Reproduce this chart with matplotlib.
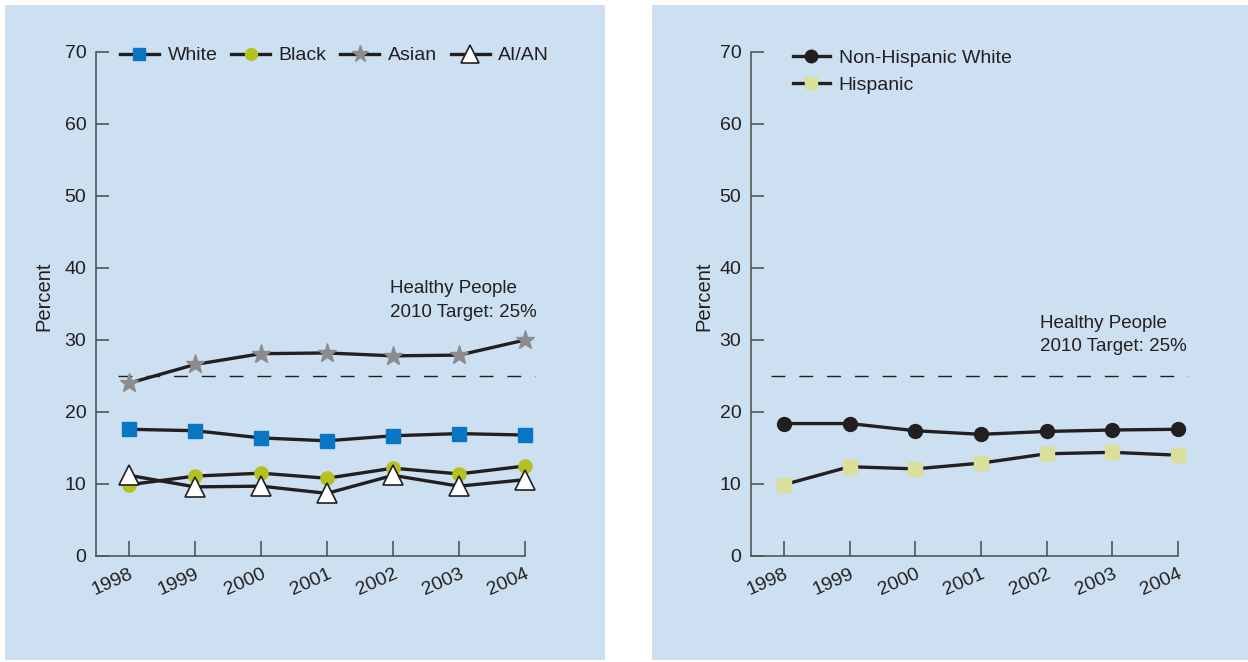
import matplotlib
matplotlib.use('Agg')
import matplotlib.pyplot as plt
from matplotlib.patches import Rectangle

plt.rcParams['font.family'] = ['Liberation Sans', 'DejaVu Sans']

years = [1998, 1999, 2000, 2001, 2002, 2003, 2004]
white = [17.6, 17.4, 16.4, 16.0, 16.7, 17.0, 16.8]
black = [9.9, 11.1, 11.5, 10.8, 12.2, 11.4, 12.5]
asian = [24.0, 26.6, 28.1, 28.2, 27.8, 27.9, 30.0]
aian = [11.2, 9.6, 9.7, 8.7, 11.2, 9.7, 10.6]
nh_white = [18.4, 18.4, 17.4, 16.9, 17.3, 17.5, 17.6]
hispanic = [9.9, 12.4, 12.1, 12.9, 14.2, 14.4, 14.0]
target = 25
target_text = 'Healthy People\n2010 Target: 25%'

BG = '#cde0f1'
TXT = '#231f20'
AXC = '#555555'
FS = 14

fig = plt.figure(figsize=(12.48, 6.62), dpi=100)
fig.patch.set_facecolor('white')
W, H = 1248, 662
# panel backgrounds, kept behind the axes
fig.patches.append(Rectangle((5 / W, 2 / H), 600 / W, 655 / H, transform=fig.transFigure,
                             facecolor=BG, edgecolor='none', zorder=-10))
fig.patches.append(Rectangle((652 / W, 2 / H), 596 / W, 655 / H, transform=fig.transFigure,
                             facecolor=BG, edgecolor='none', zorder=-10))


def setup_axes(ax, label_x):
    ax.set_facecolor('none')
    ax.set_xlim(1997.5, 2004)
    ax.set_ylim(0, 70)
    ax.set_yticks(range(0, 71, 10))
    ax.set_xticks(years)
    ax.set_xticklabels([str(y) for y in years], rotation=24, ha='right', va='top',
                       rotation_mode='anchor', fontsize=FS, color=TXT)
    for lab in ax.get_yticklabels():
        lab.set_fontsize(FS)
        lab.set_color(TXT)
    ax.spines['top'].set_visible(False)
    ax.spines['right'].set_visible(False)
    for s in ('left', 'bottom'):
        ax.spines[s].set_color(AXC)
        ax.spines[s].set_linewidth(1.2)
    ax.tick_params(axis='y', direction='in', length=9, width=1.2, color=AXC, pad=7)
    ax.tick_params(axis='x', direction='in', length=11, width=1.2, color=AXC, pad=7)
    ax.set_ylabel('Percent', fontsize=14.5, color=TXT)
    ax.yaxis.set_label_coords(label_x, 0.516)


line_kw = dict(color='#231f20', lw=2.4, clip_on=False)
dash_kw = dict(color='#231f20', lw=1, dashes=(10, 10), clip_on=False)
note_kw = dict(fontsize=13.5, color=TXT, va='top', ha='left', linespacing=1.5)

# left panel
ax1 = fig.add_axes([96 / W, 106 / H, 429 / W, 504 / H])
setup_axes(ax1, -0.100)
ax1.axhline(target, xmin=0.051, xmax=1.023, **dash_kw)
ax1.plot(years, white, marker='s', ms=10, mfc='#0a75c2', mec='#0a75c2', label='White', **line_kw)
ax1.plot(years, black, marker='o', ms=9.5, mfc='#b5c11d', mec='#b5c11d', label='Black', **line_kw)
ax1.plot(years, asian, marker='*', ms=14, mfc='#8c8c8e', mec='#8c8c8e', label='Asian', **line_kw)
ax1.plot(years, aian, marker='^', ms=14, mfc='white', mec='#231f20', mew=1.2, label='AI/AN', **line_kw)
ax1.text(2001.95, 38.3, target_text, **note_kw)
ax1.legend(loc='center left', bbox_to_anchor=(0.056, 0.993), ncol=4, frameon=False, fontsize=FS,
           handlelength=2.0, columnspacing=0.7, handletextpad=0.45, numpoints=1, labelcolor=TXT,
           borderaxespad=0.0, borderpad=0.0, markerscale=0.9)

# right panel
ax2 = fig.add_axes([751 / W, 106 / H, 427 / W, 504 / H])
setup_axes(ax2, -0.089)
ax2.axhline(target, xmin=0.047, xmax=1.023, **dash_kw)
ax2.plot(years, nh_white, marker='o', ms=10, mfc='#231f20', mec='#231f20', label='Non-Hispanic White', **line_kw)
ax2.plot(years, hispanic, marker='s', ms=10, mfc='#dadf9c', mec='#dadf9c', label='Hispanic', **line_kw)
ax2.text(2001.9, 33.5, target_text, **note_kw)
ax2.legend(loc='upper left', bbox_to_anchor=(0.098, 1.006), ncol=1, frameon=False, fontsize=FS,
           handlelength=1.9, handletextpad=0.45, labelspacing=0.5, numpoints=1, labelcolor=TXT,
           borderaxespad=0.0, borderpad=0.0, markerscale=0.9)

fig.savefig('out.png', dpi=100, facecolor='white')
